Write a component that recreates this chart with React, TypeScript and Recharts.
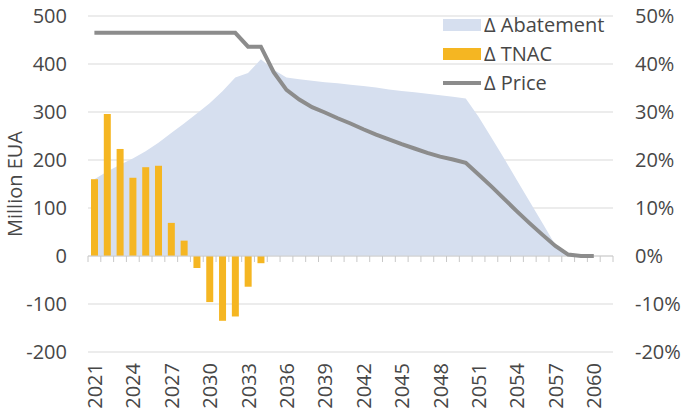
import { ComposedChart, Area, Bar, Line, XAxis, YAxis, CartesianGrid, ReferenceLine, Legend } from 'recharts';

const years = [
  '2021', '2022', '2023', '2024', '2025', '2026', '2027', '2028', '2029', '2030',
  '2031', '2032', '2033', '2034', '2035', '2036', '2037', '2038', '2039', '2040',
  '2041', '2042', '2043', '2044', '2045', '2046', '2047', '2048', '2049', '2050',
  '2051', '2052', '2053', '2054', '2055', '2056', '2057', '2058', '2059', '2060',
  '2061',
];

// Million EUA
const abatement = [
  160, 176, 190, 203, 218, 236, 256, 276, 297, 318,
  343, 372, 381, 410, 388, 372, 368, 365, 362, 360,
  357, 354, 351, 347, 344, 341, 338, 335, 332, 328,
  290, 247, 203, 158, 113, 68, 23, 0, 0, 0,
  null,
];

const tnac = [
  160, 296, 223, 163, 185, 188, 69, 32, -25, -96,
  -135, -126, -64, -15,
];

// percent
const price = [
  46.5, 46.5, 46.5, 46.5, 46.5, 46.5, 46.5, 46.5, 46.5, 46.5,
  46.5, 46.5, 43.6, 43.6, 38.3, 34.6, 32.6, 31.0, 29.9, 28.7,
  27.6, 26.4, 25.3, 24.3, 23.3, 22.4, 21.5, 20.7, 20.1, 19.4,
  17.0, 14.5, 11.9, 9.3, 6.8, 4.4, 2.1, 0.3, 0, 0,
  null,
];

const leftTicks = [-200, -100, 0, 100, 200, 300, 400, 500];
const rightTicks = [-20, -10, 0, 10, 20, 30, 40, 50];

const legendItems = [
  { name: 'Δ Abatement', color: '#d6dfef', kind: 'rect' },
  { name: 'Δ TNAC', color: '#f5b622', kind: 'rect' },
  { name: 'Δ Price', color: '#8c8c8c', kind: 'line' },
];

const data = years.map((year, i) => ({
  year,
  abatement: abatement[i] ?? null,
  tnac: tnac[i] ?? null,
  price: price[i] ?? null,
}));

const FONT = '"Open Sans", sans-serif';
const TEXT = '#474747';

const YearTick = (props: any) => {
  const { x, y, payload } = props;
  const ty = y + 11;
  return (
    <text
      x={x}
      y={ty}
      transform={`rotate(-90 ${x} ${ty})`}
      textAnchor="end"
      dominantBaseline="central"
      fontSize={20}
      fontFamily={FONT}
      fill={TEXT}
    >
      {payload.value}
    </text>
  );
};

// category axis line at zero, with a small tick between every year
const ZeroAxis = (props: any) => {
  const { x1, y1, x2 } = props;
  const n = years.length;
  const step = (x2 - x1) / n;
  return (
    <g>
      <line x1={x1} y1={y1} x2={x2} y2={y1} stroke="#d0d0d0" strokeWidth={1} />
      {years.concat(['']).map((_, i) => (
        <line key={i} x1={x1 + i * step} y1={y1} x2={x1 + i * step} y2={y1 + 6} stroke="#c8c8c8" strokeWidth={1} />
      ))}
    </g>
  );
};

const LegendBox = () => (
  <div style={{ fontFamily: FONT, fontSize: 20, color: TEXT }}>
    {legendItems.map((item) => (
      <div key={item.name} style={{ display: 'flex', alignItems: 'center', height: 29 }}>
        <svg width={38} height={14} style={{ marginRight: 3 }}>
          {item.kind === 'rect' ? (
            <rect x={0} y={1} width={38} height={12} fill={item.color} />
          ) : (
            <line x1={0} y1={7} x2={38} y2={7} stroke={item.color} strokeWidth={4} />
          )}
        </svg>
        <span style={{ lineHeight: '29px' }}>{item.name}</span>
      </div>
    ))}
  </div>
);

export default function App() {
  return (
    <div style={{ position: 'absolute', left: 0, top: 0 }}>
      <ComposedChart width={685} height={418} data={data} margin={{ top: 16, right: 0, bottom: 0, left: 0 }}>
        <CartesianGrid yAxisId="left" vertical={false} stroke="#d9d9d9" />
        <XAxis
          dataKey="year"
          interval={2}
          tick={<YearTick />}
          axisLine={false}
          tickLine={false}
          tickSize={0}
          tickMargin={0}
          height={66}
        />
        <YAxis
          yAxisId="left"
          width={88}
          domain={[-200, 500]}
          ticks={leftTicks}
          axisLine={false}
          tickLine={false}
          tickSize={0}
          tickMargin={21}
          tick={{ fontSize: 20, fontFamily: FONT, fill: TEXT }}
          label={{
            value: 'Million EUA',
            angle: -90,
            position: 'insideLeft',
            dx: 10,
            style: { fontSize: 20, fontFamily: FONT, fill: TEXT, textAnchor: 'middle' },
          }}
        />
        <YAxis
          yAxisId="right"
          orientation="right"
          width={72}
          domain={[-20, 50]}
          ticks={rightTicks}
          tickFormatter={(v: number) => `${v}%`}
          axisLine={false}
          tickLine={false}
          tickSize={0}
          tickMargin={22}
          tick={{ fontSize: 20, fontFamily: FONT, fill: TEXT }}
        />
        <Area
          yAxisId="left"
          type="linear"
          dataKey="abatement"
          name="Δ Abatement"
          fill="#d6dfef"
          fillOpacity={1}
          stroke="none"
          isAnimationActive={false}
        />
        <ReferenceLine yAxisId="left" y={0} shape={<ZeroAxis />} />
        <Bar yAxisId="left" dataKey="tnac" name="Δ TNAC" fill="#f5b622" barSize={7} isAnimationActive={false} />
        <Line
          yAxisId="right"
          type="linear"
          dataKey="price"
          name="Δ Price"
          stroke="#8c8c8c"
          strokeWidth={4}
          dot={false}
          activeDot={false}
          isAnimationActive={false}
        />
        <Legend
          layout="vertical"
          align="center"
          verticalAlign="middle"
          content={<LegendBox />}
          wrapperStyle={{ left: 443, top: 10, width: 'auto', height: 'auto' }}
        />
      </ComposedChart>
    </div>
  );
}
